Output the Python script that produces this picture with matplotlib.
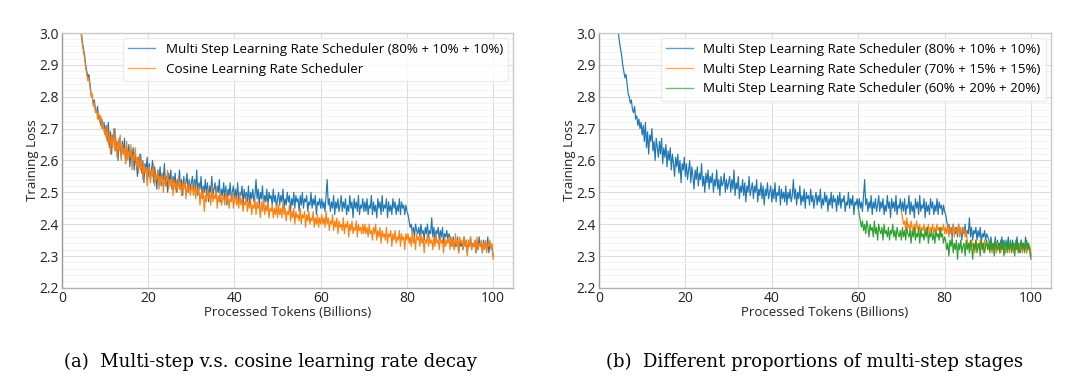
import numpy as np
import matplotlib
matplotlib.use("Agg")
import matplotlib.pyplot as plt
from matplotlib.ticker import MultipleLocator

# x grid: processed tokens (billions), one reading every 0.25B
step = 0.25

# multi-step 80/10/10, from 4B to 100B
ms80 = [
    3.05, 3.02, 3.00, 2.97, 2.95, 2.93, 2.90, 2.88, 2.86, 2.87, 2.84, 2.81, 2.80, 2.78, 2.79, 2.76, 2.75, 2.77, 2.73, 2.74,
    2.71, 2.73, 2.70, 2.72, 2.68,
    # 10 - 20
    2.71, 2.66, 2.72, 2.64, 2.69, 2.62, 2.68, 2.66, 2.70, 2.63, 2.66, 2.60, 2.67, 2.64, 2.61, 2.66, 2.62, 2.67, 2.59, 2.64,
    2.61, 2.65, 2.58, 2.63, 2.60, 2.64, 2.57, 2.62, 2.59, 2.55, 2.61, 2.58, 2.62, 2.56, 2.60, 2.53, 2.59, 2.57, 2.61, 2.55,
    # 20 - 30
    2.59, 2.54, 2.57, 2.60, 2.53, 2.58, 2.55, 2.51, 2.57, 2.54, 2.58, 2.52, 2.56, 2.54, 2.59, 2.52, 2.55, 2.50, 2.56, 2.53,
    2.57, 2.51, 2.55, 2.53, 2.56, 2.50, 2.54, 2.52, 2.57, 2.51, 2.54, 2.49, 2.55, 2.52, 2.53, 2.56, 2.50, 2.54, 2.51, 2.53,
    # 30 - 40
    2.55, 2.50, 2.54, 2.51, 2.57, 2.49, 2.53, 2.51, 2.55, 2.48, 2.52, 2.50, 2.54, 2.49, 2.53, 2.47, 2.52, 2.50, 2.55, 2.49,
    2.51, 2.53, 2.48, 2.52, 2.50, 2.54, 2.47, 2.51, 2.49, 2.53, 2.48, 2.52, 2.46, 2.51, 2.49, 2.53, 2.48, 2.50, 2.52, 2.47,
    # 40 - 50
    2.51, 2.48, 2.53, 2.47, 2.50, 2.49, 2.52, 2.46, 2.51, 2.48, 2.50, 2.47, 2.52, 2.46, 2.50, 2.48, 2.51, 2.47, 2.49, 2.54,
    2.48, 2.51, 2.46, 2.50, 2.48, 2.52, 2.46, 2.49, 2.47, 2.51, 2.45, 2.50, 2.48, 2.49, 2.46, 2.51, 2.47, 2.49, 2.45, 2.48,
    # 50 - 60
    2.50, 2.46, 2.49, 2.47, 2.51, 2.45, 2.48, 2.46, 2.50, 2.47, 2.49, 2.44, 2.48, 2.46, 2.50, 2.45, 2.49, 2.47, 2.48, 2.44,
    2.49, 2.46, 2.50, 2.45, 2.48, 2.47, 2.49, 2.44, 2.47, 2.46, 2.50, 2.45, 2.48, 2.46, 2.49, 2.43, 2.47, 2.46, 2.48, 2.45,
    # 60 - 70
    2.48, 2.45, 2.47, 2.44, 2.49, 2.54, 2.46, 2.48, 2.44, 2.47, 2.45, 2.49, 2.43, 2.47, 2.45, 2.48, 2.44, 2.46, 2.49, 2.44,
    2.47, 2.45, 2.48, 2.43, 2.46, 2.44, 2.49, 2.45, 2.47, 2.42, 2.48, 2.45, 2.47, 2.44, 2.49, 2.43, 2.46, 2.45, 2.48, 2.44,
    # 70 - 80
    2.47, 2.44, 2.48, 2.43, 2.46, 2.45, 2.49, 2.43, 2.47, 2.44, 2.46, 2.42, 2.48, 2.45, 2.47, 2.43, 2.49, 2.44, 2.46, 2.45,
    2.48, 2.42, 2.47, 2.44, 2.46, 2.43, 2.48, 2.45, 2.47, 2.43, 2.46, 2.44, 2.48, 2.43, 2.47, 2.45, 2.46, 2.43, 2.46, 2.44,
    # 80 - 90
    2.43, 2.41, 2.39, 2.40, 2.37, 2.39, 2.36, 2.40, 2.38, 2.37, 2.39, 2.36, 2.40, 2.37, 2.38, 2.35, 2.39, 2.37, 2.40, 2.36,
    2.38, 2.37, 2.42, 2.36, 2.39, 2.35, 2.38, 2.37, 2.39, 2.35, 2.38, 2.36, 2.39, 2.34, 2.37, 2.36, 2.38, 2.35, 2.37, 2.36,
    # 90 - 100
    2.35, 2.33, 2.36, 2.32, 2.34, 2.33, 2.36, 2.31, 2.35, 2.33, 2.34, 2.32, 2.36, 2.33, 2.35, 2.31, 2.34, 2.33, 2.36, 2.32,
    2.34, 2.33, 2.35, 2.31, 2.34, 2.32, 2.36, 2.33, 2.34, 2.31, 2.35, 2.33, 2.34, 2.32, 2.36, 2.31, 2.34, 2.33, 2.32, 2.30,
]
ms80_start = 4.0

# cosine schedule, from 4B to 100B
cosine = [
    3.06, 3.01, 2.99, 2.96, 2.94, 2.92, 2.89, 2.87, 2.85, 2.86, 2.83, 2.80, 2.81, 2.77, 2.78, 2.75, 2.76, 2.73, 2.75, 2.72,
    2.74, 2.70, 2.72, 2.69, 2.70,
    # 10 - 20
    2.67, 2.71, 2.65, 2.69, 2.62, 2.68, 2.64, 2.70, 2.63, 2.67, 2.61, 2.66, 2.63, 2.68, 2.60, 2.65, 2.62, 2.64, 2.59, 2.66,
    2.60, 2.63, 2.61, 2.65, 2.57, 2.62, 2.60, 2.64, 2.58, 2.61, 2.56, 2.62, 2.57, 2.60, 2.54, 2.59, 2.56, 2.58, 2.52, 2.57,
    # 20 - 30
    2.58, 2.53, 2.57, 2.55, 2.59, 2.52, 2.56, 2.54, 2.57, 2.51, 2.55, 2.53, 2.56, 2.50, 2.55, 2.52, 2.54, 2.57, 2.51, 2.54,
    2.52, 2.55, 2.49, 2.54, 2.51, 2.53, 2.50, 2.55, 2.51, 2.53, 2.49, 2.53, 2.51, 2.54, 2.48, 2.52, 2.50, 2.53, 2.49, 2.51,
    # 30 - 40
    2.52, 2.49, 2.53, 2.48, 2.51, 2.50, 2.52, 2.46, 2.50, 2.48, 2.51, 2.44, 2.49, 2.47, 2.51, 2.48, 2.50, 2.46, 2.52, 2.47,
    2.49, 2.48, 2.51, 2.45, 2.49, 2.47, 2.50, 2.46, 2.48, 2.49, 2.46, 2.50, 2.47, 2.49, 2.45, 2.48, 2.47, 2.50, 2.45, 2.48,
    # 40 - 50
    2.49, 2.46, 2.48, 2.45, 2.50, 2.46, 2.48, 2.44, 2.47, 2.46, 2.49, 2.44, 2.47, 2.45, 2.48, 2.43, 2.46, 2.45, 2.48, 2.43,
    2.47, 2.45, 2.46, 2.42, 2.47, 2.44, 2.48, 2.43, 2.46, 2.44, 2.47, 2.42, 2.45, 2.44, 2.46, 2.42, 2.45, 2.43, 2.46, 2.42,
    # 50 - 60
    2.46, 2.43, 2.45, 2.42, 2.47, 2.43, 2.45, 2.41, 2.44, 2.43, 2.46, 2.41, 2.44, 2.42, 2.45, 2.40, 2.44, 2.42, 2.43, 2.41,
    2.45, 2.40, 2.43, 2.42, 2.44, 2.39, 2.43, 2.41, 2.44, 2.40, 2.42, 2.41, 2.44, 2.39, 2.42, 2.40, 2.43, 2.39, 2.42, 2.40,
    # 60 - 70
    2.43, 2.40, 2.42, 2.39, 2.44, 2.40, 2.42, 2.38, 2.41, 2.40, 2.43, 2.38, 2.41, 2.39, 2.42, 2.37, 2.41, 2.39, 2.40, 2.38,
    2.42, 2.37, 2.40, 2.39, 2.41, 2.36, 2.40, 2.38, 2.41, 2.37, 2.39, 2.38, 2.41, 2.36, 2.40, 2.38, 2.39, 2.37, 2.40, 2.37,
    # 70 - 80
    2.40, 2.37, 2.39, 2.36, 2.40, 2.37, 2.38, 2.35, 2.39, 2.37, 2.40, 2.35, 2.38, 2.36, 2.39, 2.34, 2.38, 2.36, 2.37, 2.35,
    2.39, 2.34, 2.37, 2.36, 2.38, 2.33, 2.37, 2.35, 2.38, 2.34, 2.36, 2.35, 2.38, 2.33, 2.37, 2.35, 2.36, 2.32, 2.37, 2.35,
    # 80 - 90
    2.37, 2.34, 2.36, 2.33, 2.38, 2.34, 2.36, 2.32, 2.37, 2.35, 2.36, 2.33, 2.37, 2.34, 2.36, 2.31, 2.35, 2.34, 2.37, 2.33,
    2.36, 2.34, 2.35, 2.32, 2.36, 2.33, 2.37, 2.34, 2.35, 2.32, 2.36, 2.34, 2.35, 2.31, 2.36, 2.33, 2.35, 2.34, 2.36, 2.32,
    # 90 - 100
    2.36, 2.33, 2.35, 2.32, 2.37, 2.33, 2.35, 2.31, 2.36, 2.34, 2.35, 2.32, 2.36, 2.33, 2.35, 2.30, 2.35, 2.33, 2.36, 2.32,
    2.34, 2.33, 2.35, 2.31, 2.36, 2.32, 2.34, 2.33, 2.35, 2.31, 2.34, 2.32, 2.35, 2.31, 2.34, 2.33, 2.35, 2.32, 2.34, 2.29,
]
cosine_start = 4.0

# multi-step 70/15/15, branches off at 70B
ms70 = [
    2.44,
    # 70 - 80
    2.42, 2.40, 2.41, 2.38, 2.42, 2.39, 2.40, 2.37, 2.41, 2.39, 2.38, 2.40, 2.37, 2.41, 2.39, 2.38, 2.40, 2.37, 2.39, 2.38,
    2.40, 2.37, 2.39, 2.38, 2.40, 2.36, 2.39, 2.38, 2.40, 2.37, 2.39, 2.37, 2.40, 2.38, 2.39, 2.36, 2.39, 2.38, 2.40, 2.37,
    # 80 - 90
    2.39, 2.37, 2.40, 2.36, 2.39, 2.38, 2.37, 2.40, 2.36, 2.39, 2.38, 2.37, 2.40, 2.36, 2.39, 2.37, 2.38, 2.39, 2.36, 2.38,
    2.35, 2.33, 2.34, 2.32, 2.35, 2.33, 2.34, 2.31, 2.35, 2.33, 2.34, 2.32, 2.35, 2.33, 2.34, 2.31, 2.35, 2.33, 2.34, 2.32,
    # 90 - 100
    2.34, 2.32, 2.33, 2.31, 2.34, 2.32, 2.33, 2.31, 2.34, 2.32, 2.33, 2.31, 2.34, 2.32, 2.33, 2.31, 2.34, 2.32, 2.33, 2.31,
    2.34, 2.32, 2.33, 2.31, 2.34, 2.32, 2.33, 2.31, 2.34, 2.32, 2.33, 2.31, 2.34, 2.32, 2.33, 2.31, 2.34, 2.32, 2.33, 2.31,
]
ms70_start = 70.0

# multi-step 60/20/20, branches off at 60B
ms60 = [
    2.45,
    # 60 - 70
    2.43, 2.41, 2.39, 2.41, 2.38, 2.40, 2.37, 2.41, 2.39, 2.36, 2.40, 2.38, 2.39, 2.36, 2.41, 2.37, 2.39, 2.35, 2.40, 2.38,
    2.37, 2.39, 2.35, 2.40, 2.37, 2.38, 2.36, 2.39, 2.35, 2.38, 2.37, 2.40, 2.36, 2.38, 2.35, 2.39, 2.37, 2.36, 2.38, 2.35,
    # 70 - 80
    2.39, 2.36, 2.38, 2.35, 2.39, 2.37, 2.36, 2.38, 2.34, 2.38, 2.36, 2.39, 2.35, 2.37, 2.36, 2.39, 2.34, 2.38, 2.36, 2.37,
    2.35, 2.38, 2.36, 2.39, 2.34, 2.37, 2.36, 2.38, 2.35, 2.37, 2.34, 2.38, 2.36, 2.37, 2.35, 2.39, 2.36, 2.37, 2.34, 2.36,
    # 80 - 90
    2.35, 2.32, 2.34, 2.30, 2.35, 2.33, 2.36, 2.31, 2.34, 2.32, 2.35, 2.29, 2.34, 2.32, 2.35, 2.31, 2.33, 2.34, 2.30, 2.35,
    2.32, 2.34, 2.31, 2.35, 2.33, 2.29, 2.34, 2.32, 2.35, 2.31, 2.33, 2.34, 2.30, 2.35, 2.32, 2.34, 2.31, 2.33, 2.35, 2.32,
    # 90 - 100
    2.34, 2.31, 2.35, 2.32, 2.34, 2.30, 2.35, 2.33, 2.32, 2.34, 2.31, 2.35, 2.32, 2.34, 2.30, 2.33, 2.35, 2.31, 2.34, 2.32,
    2.35, 2.31, 2.33, 2.34, 2.30, 2.35, 2.32, 2.34, 2.31, 2.33, 2.35, 2.32, 2.34, 2.31, 2.33, 2.35, 2.32, 2.34, 2.31, 2.29,
]
ms60_start = 60.0

label80 = "Multi Step Learning Rate Scheduler (80% + 10% + 10%)"
label70 = "Multi Step Learning Rate Scheduler (70% + 15% + 15%)"
label60 = "Multi Step Learning Rate Scheduler (60% + 20% + 20%)"
label_cos = "Cosine Learning Rate Scheduler"
captions = ["(a)  Multi-step v.s. cosine learning rate decay",
            "(b)  Different proportions of multi-step stages"]


def xs(start, vals):
    return start + step * np.arange(len(vals))


plt.rcParams['font.family'] = ['Open Sans', 'DejaVu Sans']

fig = plt.figure(figsize=(10.8, 3.89), dpi=100)
ax1 = fig.add_axes([0.0574, 0.260, 0.4176, 0.655])
ax2 = fig.add_axes([0.5546, 0.260, 0.4184, 0.655])

lw = 0.85
ax1.plot(xs(ms80_start, ms80), ms80, color='#1f77b4', lw=lw, label=label80)
ax1.plot(xs(cosine_start, cosine), cosine, color='#ff7f0e', lw=lw, label=label_cos)

ax2.plot(xs(ms80_start, ms80), ms80, color='#1f77b4', lw=lw, label=label80)
ax2.plot(xs(ms70_start, ms70), ms70, color='#ff7f0e', lw=lw, label=label70)
ax2.plot(xs(ms60_start, ms60), ms60, color='#2ca02c', lw=lw, label=label60)

for ax in (ax1, ax2):
    ax.set_xlim(0, 104.6)
    ax.set_ylim(2.2, 3.0)
    ax.xaxis.set_major_locator(MultipleLocator(20))
    ax.yaxis.set_major_locator(MultipleLocator(0.1))
    ax.yaxis.set_minor_locator(MultipleLocator(0.02))
    ax.grid(which='major', color='#dcdcdc', lw=0.8)
    ax.grid(which='minor', axis='y', color='#efefef', lw=0.5)
    ax.set_axisbelow(True)
    for s in ax.spines.values():
        s.set_color('#c8c8c8')
        s.set_linewidth(1.0)
    ax.spines['left'].set_color('#9a9a9a')
    ax.spines['bottom'].set_color('#b0b0b0')
    ax.tick_params(which='both', length=0, labelsize=10, colors='#222222')
    ax.tick_params(axis='y', pad=2.5)
    ax.tick_params(axis='x', pad=2.5)
    ax.set_xlabel("Processed Tokens (Billions)", fontsize=9.5, labelpad=0, color='#222222')
    ax.set_ylabel("Training Loss", fontsize=9.5, labelpad=0, color='#222222')
    leg = ax.legend(loc='upper right', fontsize=9.6, framealpha=0.8, edgecolor='#e6e6e6',
                    handlelength=2.0, handletextpad=0.8, borderaxespad=0.35, fancybox=True)
    for h in leg.get_lines():
        h.set_linewidth(1.0)
        h.set_alpha(0.7)

fig.text(270 / 1080, 1 - 362 / 389, captions[0], ha='center', va='center',
         family='DejaVu Serif', fontsize=13)
fig.text(815 / 1080, 1 - 362 / 389, captions[1], ha='center', va='center',
         family='DejaVu Serif', fontsize=13)

fig.savefig("out.png", dpi=100, facecolor='white')
